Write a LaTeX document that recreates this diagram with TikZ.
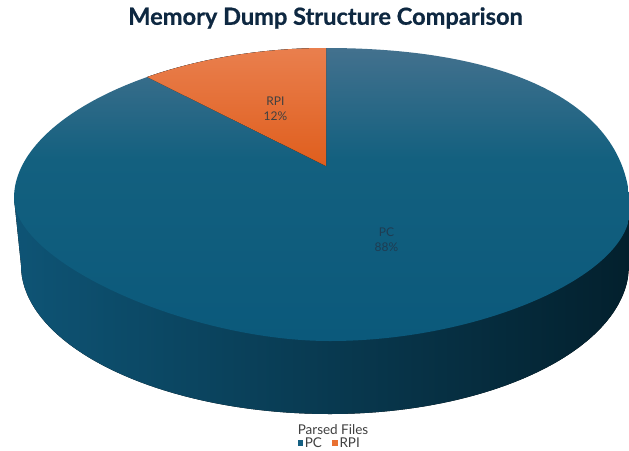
\documentclass[tikz,border=0pt]{standalone}
\usepackage{fontspec}
\setmainfont{Lato}
\newfontfamily\titlefont{Lato}[BoldFeatures={FakeBold=0.6}]
\definecolor{titlec}{HTML}{0E2841}
\definecolor{facetop}{HTML}{43718E}
\definecolor{facemid}{HTML}{13607F}
\definecolor{facebot}{HTML}{0B597B}
\definecolor{sideL}{HTML}{0E5475}
\definecolor{sideM}{HTML}{062F45}
\definecolor{sideR}{HTML}{03202D}
\definecolor{orangetop}{HTML}{EB8455}
\definecolor{orangebot}{HTML}{DF5E1D}
\definecolor{pcblue}{HTML}{156082}
\definecolor{rpiorange}{HTML}{E97132}
\definecolor{labelc}{HTML}{404040}
\definecolor{pclabel}{HTML}{1F3C52}
\pgfdeclareverticalshading{faceshade}{100bp}{color(0bp)=(facebot); color(25bp)=(facebot); color(56bp)=(facemid); color(75bp)=(facetop); color(100bp)=(facetop)}
\newcommand\faceoutline{(326,48) .. controls (517,48) and (630,108) .. (630,210) .. controls (630,275.5) and (480,341) .. (330,341) .. controls (188,341) and (14,262) .. (14,198) .. controls (14,118.5) and (160.6,48) .. cycle}
\tikzset{
  datalabel/.style={font=\fontsize{12}{15}\selectfont, align=center, inner sep=0pt},
  legendtext/.style={font=\fontsize{13.5}{15}\selectfont, text=labelc, inner sep=0pt, anchor=west},
  legendbox/.style={minimum size=5.8pt, inner sep=0pt}
}
\begin{document}
\begin{tikzpicture}[x=1pt,y=-1pt]
\useasboundingbox (0,0) rectangle (629,450);
\fill[white] (0,0) rectangle (629,450);
% side wall
\fill[left color=sideL, middle color=sideM, right color=sideR]
  (14,198) -- (21,265) .. controls (21,345.6) and (159.5,414) .. (330,414)
  .. controls (494.5,414) and (629,347) .. (629,265) -- (630,210) -- cycle;
% top face (PC)
\shade[shading=faceshade] \faceoutline;
% RPI slice
\begin{scope}
  \clip \faceoutline;
  \fill[top color=orangetop, bottom color=orangebot] (326,166) -- (326,30) -- (100,30) -- (100,53.6) -- cycle;
\end{scope}
% labels
\node[datalabel, text=labelc] (rpilabel) at (275.5,108.5) {RPI\\12\%};
\node[datalabel, text=pclabel] (pclabel) at (386.5,239.5) {PC\\88\%};
% title
\node[font=\titlefont\fontsize{23.6}{28}\selectfont\bfseries, text=titlec, inner sep=0pt] (title) at (325.5,18) {Memory Dump Structure Comparison};
% legend
\node[font=\fontsize{13.5}{15}\selectfont, text=labelc, inner sep=0pt] (legendtitle) at (333,430) {Parsed Files};
\node[legendbox, fill=pcblue] (pcbox) at (300.5,443) {};
\node[legendtext] (pctext) at (304.6,443) {PC};
\node[legendbox, fill=rpiorange] (rpibox) at (335.2,443) {};
\node[legendtext] (rpitext) at (339.3,443) {RPI};
\end{tikzpicture}
\end{document}
